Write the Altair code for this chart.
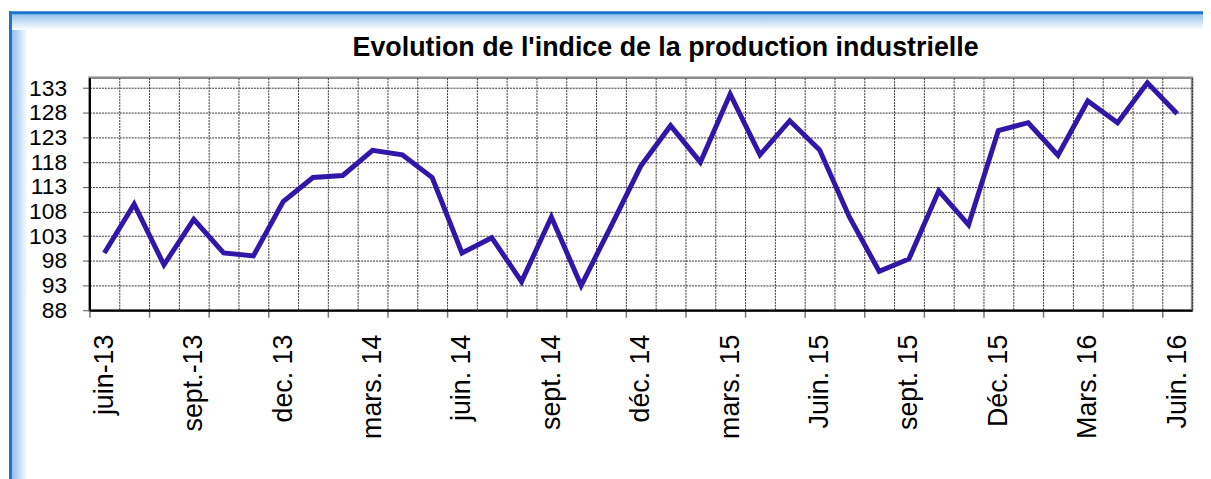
import json
import altair as alt
import pandas as pd

# ---- data ----
values = [99.6, 109.5, 97.2, 106.4, 99.6, 99.0, 110.0, 114.9, 115.3, 120.4,
          119.5, 114.9, 99.6, 102.7, 93.8, 106.9, 93.0, 105.0, 117.2, 125.4,
          118.0, 131.8, 119.5, 126.4, 120.5, 106.9, 95.9, 98.4, 112.2, 105.3,
          124.4, 126.0, 119.4, 130.4, 126.0, 134.1, 127.8]
month_index = list(range(len(values)))
tick_labels = ["juin-13", "sept.-13", "dec. 13", "mars. 14", "juin. 14", "sept. 14",
               "déc. 14", "mars. 15", "Juin. 15", "sept. 15", "Déc. 15", "Mars. 16",
               "Juin. 16"]
label_positions = [3 * k for k in range(len(tick_labels))]
y_ticks = [88, 93, 98, 103, 108, 113, 118, 123, 128, 133]
title_text = "Evolution de l'indice de la production industrielle"

df = pd.DataFrame({"i": month_index, "v": values})

W, H = 1110, 234
FONT = "Liberation Sans"
n = len(values)
grid_positions = [k - 0.5 for k in range(n + 1)]
tick_positions = [k - 0.5 for k in range(0, n + 1, 2)]

xscale = alt.Scale(domain=[-0.5, n - 0.5], nice=False, zero=False)
yscale = alt.Scale(domain=[88, 135.1], nice=False, zero=False)

label_expr = "%s[round(datum.value/3)]" % json.dumps(tick_labels, ensure_ascii=False)

yaxis = alt.Axis(values=y_ticks, grid=True, gridColor="#333333", gridDash=[2, 1],
                 gridWidth=1, domain=True, domainColor="#000000", domainWidth=2,
                 ticks=True, tickSize=7, tickColor="#555555", tickWidth=1,
                 labelFont=FONT, labelFontSize=23, labelColor="#000000",
                 labelPadding=16, title=None)

# vertical grid (band boundaries)
grid_layer = alt.Chart(df).mark_line(opacity=0).encode(
    x=alt.X("i:Q", scale=xscale,
            axis=alt.Axis(values=grid_positions, grid=True, gridColor="#333333",
                          gridDash=[2, 1], gridWidth=1, labels=False, ticks=False,
                          domain=False, title=None, orient="bottom")),
    y=alt.Y("v:Q", scale=yscale, axis=yaxis),
)

tick_layer = alt.Chart(df).mark_line(opacity=0).encode(
    x=alt.X("i:Q", scale=xscale,
            axis=alt.Axis(values=tick_positions, grid=False, labels=False, ticks=True,
                          tickSize=7, tickColor="#777777", tickWidth=1.5,
                          domain=False, title=None, orient="bottom")),
    y=alt.Y("v:Q", scale=yscale, axis=yaxis),
)

line_layer = alt.Chart(df).mark_line(color="#3216A8", strokeWidth=5).encode(
    x=alt.X("i:Q", scale=xscale,
            axis=alt.Axis(values=label_positions, labelExpr=label_expr, grid=False,
                          ticks=False, domain=True, domainColor="#000000",
                          domainWidth=2, labelAngle=-90, labelAlign="right",
                          labelBaseline="middle", labelFont=FONT, labelFontSize=27,
                          labelColor="#000000", labelPadding=24, title=None,
                          orient="bottom")),
    y=alt.Y("v:Q", scale=yscale, axis=yaxis),
)

# decorative frame around the whole picture
one = pd.DataFrame({"a": [0]})
left_glow = alt.Chart(one).mark_rect(
    fill={"gradient": "linear", "x1": 0, "x2": 1, "y1": 0, "y2": 0,
          "stops": [{"offset": 0, "color": "#8ABBE9"}, {"offset": 1, "color": "#ffffff"}]}
).encode(x=alt.value(-79), x2=alt.value(-62), y=alt.value(-66), y2=alt.value(500))
top_glow = alt.Chart(one).mark_rect(
    fill={"gradient": "linear", "x1": 0, "x2": 0, "y1": 0, "y2": 1,
          "stops": [{"offset": 0, "color": "#8ABBE9"}, {"offset": 1, "color": "#ffffff"}]}
).encode(x=alt.value(-79), x2=alt.value(1130), y=alt.value(-66), y2=alt.value(-48))
left_edge = alt.Chart(one).mark_rect(fill="#1F73C8").encode(
    x=alt.value(-81), x2=alt.value(-78), y=alt.value(-67), y2=alt.value(500))
top_edge = alt.Chart(one).mark_rect(fill="#1F73C8").encode(
    x=alt.value(-81), x2=alt.value(1130), y=alt.value(-67), y2=alt.value(-64))

chart = alt.layer(
    left_glow, top_glow, left_edge, top_edge, grid_layer, tick_layer, line_layer
).resolve_axis(x="independent").properties(
    width=W, height=H,
    title=alt.TitleParams(title_text, font=FONT, fontSize=27, fontWeight="bold",
                          color="#000000", anchor="middle", dx=25, offset=14,
                          dy=65, frame="group"),
    autosize=alt.AutoSizeParams(type="none"),
    padding={"left": 82, "top": 68.7, "right": 11, "bottom": 168},
    background="#ffffff",
).configure_view(stroke="#8C8C8C", strokeWidth=2.5)

chart.save("out.html", embed_options={"renderer": "svg", "actions": False})
